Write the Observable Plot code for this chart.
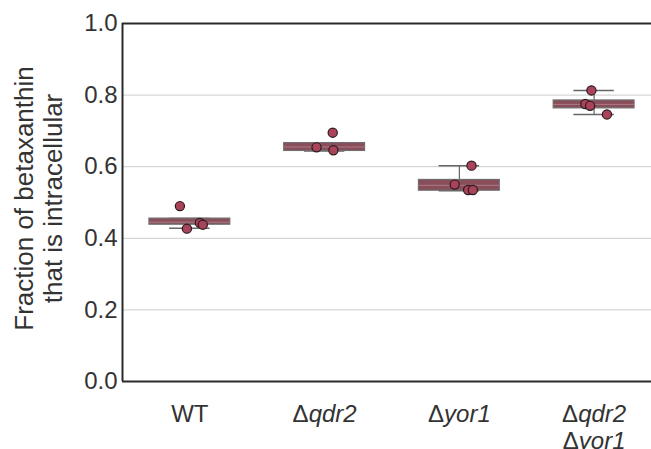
<!DOCTYPE html>
<html>
<head>
<meta charset="utf-8">
<script src="https://cdn.jsdelivr.net/npm/d3@7"></script>
<script src="https://cdn.jsdelivr.net/npm/@observablehq/plot@0.6"></script>
<style>
  html, body { margin: 0; padding: 0; background: #fff; overflow: hidden; }
  #chart { width: 651px; height: 449px; overflow: hidden; }
</style>
</head>
<body>
<div id="chart"></div>
<script>
// Categories (x axis)
const categories = ["WT", "Δqdr2", "Δyor1", "Δqdr2\nΔyor1"];

// Box summaries
const boxQ1   = [0.438, 0.644, 0.533, 0.763];
const boxQ3   = [0.455, 0.666, 0.563, 0.785];
const boxMed  = [0.445, 0.655, 0.548, 0.774];
const whiskLo = [0.428, 0.644, 0.533, 0.746];
const whiskHi = [0.455, 0.666, 0.603, 0.813];

// Individual replicate points
const pointCat    = [0, 0, 0, 0, 1, 1, 1, 2, 2, 2, 2, 3, 3, 3, 3];
const pointVal    = [0.490, 0.427, 0.443, 0.438, 0.695, 0.654, 0.646, 0.603, 0.550, 0.535, 0.535, 0.813, 0.775, 0.770, 0.746];
const pointJitter = [-0.074, -0.022, 0.074, 0.096, 0.06, -0.06, 0.065, 0.09, -0.035, 0.065, 0.10, -0.02, -0.065, -0.03, 0.095];

// Axis ticks
const yTicks = [0, 0.2, 0.4, 0.6, 0.8, 1.0];
const yGrid  = [0.2, 0.4, 0.6, 0.8];
const yLabel = "Fraction of betaxanthin\nthat is intracellular";

const boxes = categories.map((c, i) => ({
  i, q1: boxQ1[i], q3: boxQ3[i], med: boxMed[i], lo: whiskLo[i], hi: whiskHi[i]
}));
const points = pointVal.map((v, k) => ({ x: pointCat[k] + pointJitter[k], v }));

const BW = 0.3, CAP = 0.15;
const font = "'Liberation Sans', Arial, Helvetica, sans-serif";

const chart = Plot.plot({
  width: 651,
  height: 449,
  marginLeft: 122,
  marginTop: 23,
  marginBottom: 68,
  marginRight: 0,
  style: { fontFamily: font, color: "#333", background: "#fff", overflow: "hidden" },
  x: { domain: [-0.5, 3.5], range: [122, 661], axis: null },
  y: { domain: [0, 1], label: null },
  marks: [
    Plot.ruleY(yGrid, { stroke: "#cccccc", strokeWidth: 1 }),
    // whiskers
    Plot.ruleX(boxes, { x: "i", y1: "hi", y2: "q3", stroke: "#666", strokeWidth: 1.2 }),
    Plot.ruleX(boxes, { x: "i", y1: "lo", y2: "q1", stroke: "#666", strokeWidth: 1.2 }),
    Plot.ruleY(boxes, { y: "hi", x1: d => d.i - CAP, x2: d => d.i + CAP, stroke: "#666", strokeWidth: 1.5 }),
    Plot.ruleY(boxes, { y: "lo", x1: d => d.i - CAP, x2: d => d.i + CAP, stroke: "#666", strokeWidth: 1.5 }),
    // boxes
    Plot.rectY(boxes, { x1: d => d.i - BW, x2: d => d.i + BW, y1: "q1", y2: "q3", fill: "#8a4d5a", stroke: "#6e6e6e", strokeWidth: 1.2 }),
    Plot.ruleY(boxes, { y: "med", x1: d => d.i - BW, x2: d => d.i + BW, stroke: "#a97b86", strokeWidth: 1 }),
    // points
    Plot.dot(points, { x: "x", y: "v", r: 4.6, fill: "#a8435a", stroke: "#2b1b1e", strokeWidth: 1.2 }),
    // frame lines
    Plot.ruleY([0, 1], { stroke: "#2a2a2a", strokeWidth: 2 }),
    Plot.ruleX([-0.5], { y1: 0, y2: 1, stroke: "#2a2a2a", strokeWidth: 2 }),
    // axes
    Plot.axisY(yTicks, { tickSize: 0, tickPadding: 5, tickFormat: d => d.toFixed(1), fontSize: 24, label: null, fill: "#333" }),
    Plot.text(categories, {
      x: (d, i) => i, text: d => d, frameAnchor: "bottom", lineAnchor: "top",
      dy: 22, fontSize: 24, lineHeight: 1.1, fill: "#333"
    }),
    Plot.text([yLabel], {
      text: d => d, frameAnchor: "left", textAnchor: "middle", rotate: -90, dx: -84, dy: -4,
      lineAnchor: "middle", fontSize: 26, lineHeight: 1.12, fill: "#333"
    })
  ]
});

document.getElementById("chart").appendChild(chart);

// Italicize gene names while keeping the Δ upright
const NS = "http://www.w3.org/2000/svg";
function styleGene(el) {
  const s = el.textContent;
  if (!s.startsWith("Δ")) return;
  el.textContent = "";
  const a = document.createElementNS(NS, "tspan");
  a.textContent = "Δ";
  const b = document.createElementNS(NS, "tspan");
  b.setAttribute("font-style", "italic");
  b.textContent = s.slice(1);
  el.appendChild(a);
  el.appendChild(b);
}
d3.select(chart).selectAll("text").each(function () {
  const tspans = this.querySelectorAll("tspan");
  if (tspans.length) tspans.forEach(styleGene);
  else styleGene(this);
});
</script>
</body>
</html>
